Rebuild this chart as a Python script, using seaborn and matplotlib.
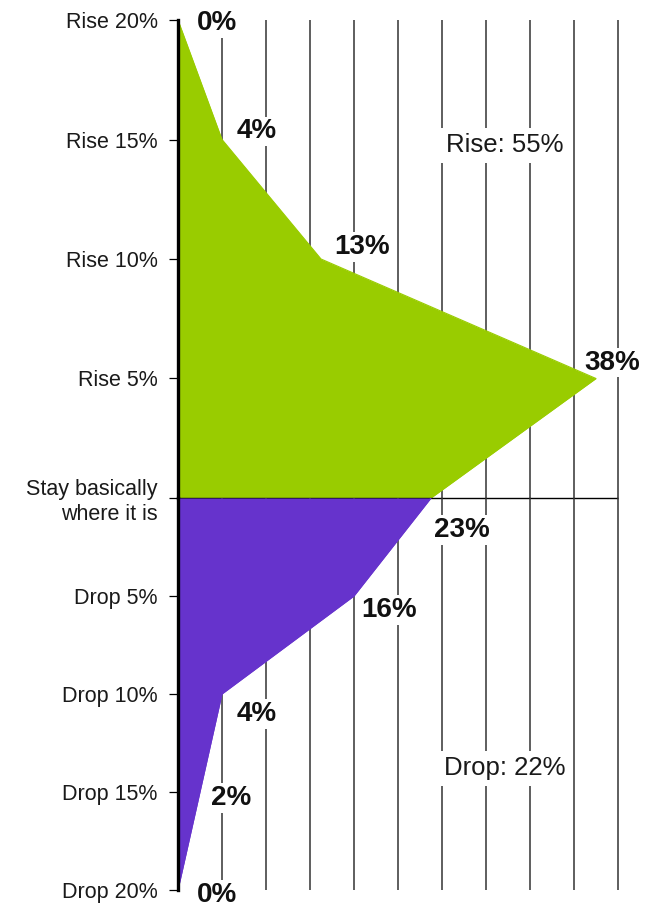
import numpy as np
import matplotlib
matplotlib.use("Agg")
import matplotlib.pyplot as plt
import seaborn as sns

# Expected change in price: share of respondents per bucket
rise_levels = ["Rise 20%", "Rise 15%", "Rise 10%", "Rise 5%", "Stay basically\nwhere it is"]
rise_share = [0, 4, 13, 38, 23]
drop_levels = ["Stay basically\nwhere it is", "Drop 5%", "Drop 10%", "Drop 15%", "Drop 20%"]
drop_share = [23, 16, 4, 2, 0]
rise_total = "Rise: 55%"
drop_total = "Drop: 22%"
grid_ticks = list(range(4, 41, 4))

GREEN = "#99cc00"
PURPLE = "#6633cc"

sns.set_theme(style="white")
plt.rcParams["font.family"] = ["Liberation Sans", "DejaVu Sans"]

fig = plt.figure(figsize=(6.52, 9.07), dpi=100)
left = 178 / 652
width = 443.3 / 652
ax_top = fig.add_axes([left, 1 - 498 / 907, width, 478 / 907])
ax_bot = fig.add_axes([left, 1 - 890 / 907, width, 392 / 907])
ax_bot.patch.set_visible(False)

# baseline offsets (pixels) of the value annotations from their points
rise_offsets = [(39, -10), (35, 1), (41, 5), (16, 9), None]
drop_offsets = [(31, -39), (35, -21), (35, -27), (31, -13), (39, -12)]


def draw_half(ax, levels, shares, color, offsets, flip):
    pos = np.arange(len(levels))
    if flip:
        pos = pos[::-1]
    for g in grid_ticks:
        ax.axvline(g, color="#333333", lw=1.1, zorder=1)
    ax.fill_betweenx(pos, 0, shares, color=color, lw=0, zorder=2)
    sns.lineplot(x=shares, y=pos, orient="y", sort=False, color=color,
                 lw=0.8, ax=ax, zorder=2)
    # value labels sit between the grid and the filled area, so their white
    # boxes break the grid lines without biting into the shape
    for v, p, off in zip(shares, pos, offsets):
        if off is None:
            continue
        ax.annotate(f"{v}%", (v, p), xytext=off, textcoords="offset pixels",
                    ha="center", va="baseline", fontsize=20, fontweight="bold",
                    color="#111111", zorder=1.5, annotation_clip=False,
                    bbox=dict(boxstyle="square,pad=0.06", fc="white", ec="none"))
    ax.set_xlim(0, 40.3)
    ax.set_xticks([])
    for s in ("top", "right", "bottom"):
        ax.spines[s].set_visible(False)
    ax.spines["left"].set_linewidth(2.4)
    ax.spines["left"].set_color("black")
    ax.spines["left"].set_zorder(6)
    ax.tick_params(axis="y", left=True, length=6.5, width=0.9, color="black",
                   pad=8, labelsize=15.5, labelcolor="#1a1a1a")
    return pos


pos_top = draw_half(ax_top, rise_levels, rise_share, GREEN, rise_offsets, flip=True)
ax_top.set_ylim(0, 4)
ax_top.set_yticks(pos_top, rise_levels)
ax_top.set_yticklabels(rise_levels, ha="right", linespacing=1.2)
ax_top.hlines(0, 0, 40, color="black", lw=1.0, zorder=4, clip_on=False)
ax_top.text(29.7, 2.95, rise_total, ha="center", va="center", fontsize=18.5,
            color="#1a1a1a", zorder=5,
            bbox=dict(boxstyle="square,pad=0.2", fc="white", ec="none"))

pos_bot = draw_half(ax_bot, drop_levels, drop_share, PURPLE, drop_offsets, flip=False)
ax_bot.set_ylim(4, 0)
ax_bot.set_yticks(pos_bot[1:], drop_levels[1:])
ax_bot.text(29.7, 2.76, drop_total, ha="center", va="center", fontsize=18.5,
            color="#1a1a1a", zorder=5,
            bbox=dict(boxstyle="square,pad=0.2", fc="white", ec="none"))

fig.savefig("out.png", dpi=100, facecolor="white")
